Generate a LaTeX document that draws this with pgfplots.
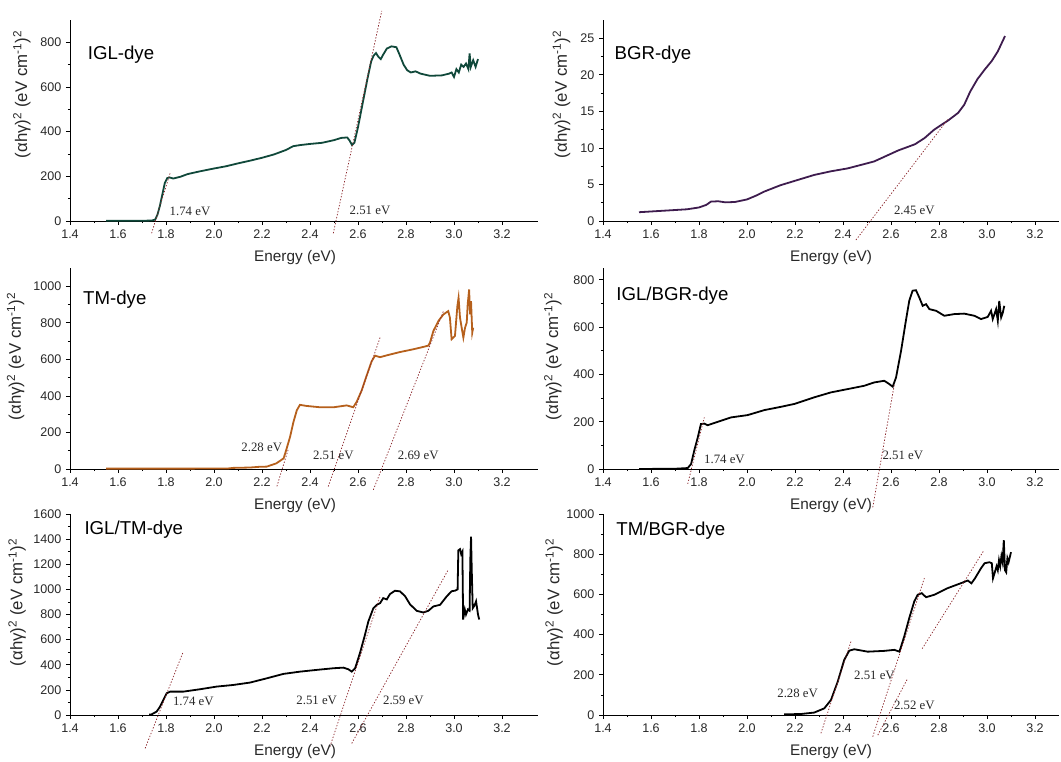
\documentclass[border=0pt]{standalone}
\usepackage{fontspec}
\setmainfont{Liberation Sans}
\newfontfamily\tnr{Liberation Serif}
\usepackage{pgfplots}
\pgfplotsset{compat=1.18}
\definecolor{iglc}{RGB}{16,72,58}
\definecolor{bgrc}{RGB}{62,28,78}
\definecolor{tmc}{RGB}{182,96,28}
\definecolor{tanc}{RGB}{140,40,45}
\definecolor{txt}{RGB}{40,40,40}
\pgfplotsset{
  myax/.style={
    scale only axis, axis lines*=left, clip=false,
    anchor=south west, height=150.75pt,
    xmin=1.4, ymin=0,
    xtick={1.4,1.6,1.8,2.0,2.2,2.4,2.6,2.8,3.0,3.2},
    minor x tick num=1, minor y tick num=1,
    tick align=outside, major tick length=3pt, minor tick length=1.6pt,
    every tick/.style={black, line width=0.5pt},
    axis line style={black, line width=0.6pt},
    /pgf/number format/assume math mode=true,
    x tick label style={/pgf/number format/.cd, fixed, fixed zerofill, precision=1, /tikz/.cd},
    y tick label style={/pgf/number format/.cd, fixed, 1000 sep={}, /tikz/.cd},
    tick label style={font=\fontsize{9.4}{10}\selectfont, text=txt},
    xlabel style={font=\fontsize{11.5}{13}\selectfont, text=txt},
    ylabel style={font=\fontsize{12.6}{14}\selectfont, text=txt},
    xlabel={Energy (eV)},
    ylabel={(αhγ)\textsuperscript{2} (eV cm\textsuperscript{-1})\textsuperscript{2}},
  },
  leftax/.style={myax, xmax=3.35, width=351pt,
    xlabel style={at={(axis description cs:0.481,-0.184)}, anchor=center}},
  rightax/.style={myax, xmax=3.3, width=342pt,
    xlabel style={at={(axis description cs:0.5,-0.184)}, anchor=center}},
  curve/.style={line width=1.35pt, no markers},
  tang/.style={tanc, line width=0.55pt, dash pattern=on 1pt off 1.3pt, no markers, forget plot},
}
\newcommand{\ttl}[3]{\node[anchor=base west, font=\fontsize{14}{16}\selectfont, text=black] at (axis description cs:#1,#2) {#3};}
\newcommand{\ann}[3]{\node[font=\tnr\fontsize{9.6}{11}\selectfont, text=txt] at (axis cs:#1,#2) {#3};}
\begin{document}
\begin{tikzpicture}
\path[use as bounding box] (0,0) rectangle (795.75pt,571.5pt);

% ---------- IGL-dye ----------
\begin{axis}[leftax, at={(52.5pt,405.75pt)}, ymax=900, ytick={0,200,400,600,800},
  ylabel style={at={(axis description cs:-0.103,0.63)}, anchor=center}]
\addplot[curve, iglc] coordinates {
(1.55,1) (1.60,1) (1.65,1) (1.70,1) (1.74,2) (1.755,6) (1.765,30) (1.775,70) (1.785,120) (1.795,170) (1.805,192) (1.815,195) (1.83,190) (1.86,198) (1.89,210) (1.94,222) (2.00,235) (2.05,245) (2.10,258) (2.15,270) (2.20,283) (2.25,298) (2.30,318) (2.33,335) (2.36,340) (2.40,345) (2.45,350) (2.50,362) (2.53,372) (2.555,374) (2.565,360) (2.575,340) (2.585,350) (2.60,420) (2.62,530) (2.64,640) (2.655,715) (2.665,740) (2.675,752) (2.685,735) (2.695,725) (2.705,745) (2.72,772) (2.74,782) (2.76,778) (2.775,740) (2.79,700) (2.805,675) (2.82,665) (2.84,670) (2.86,660) (2.90,650) (2.95,652) (2.98,660) (2.99,665) (3.00,645) (3.01,680) (3.02,665) (3.03,700) (3.04,690) (3.05,705) (3.06,680) (3.065,750) (3.07,690) (3.08,720) (3.09,690) (3.10,725)};
\addplot[tang] coordinates {(1.74,-55) (1.817,214)};
\addplot[tang] coordinates {(2.497,-55) (2.699,941)};
\ann{1.90}{42}{1.74 eV}
\ann{2.65}{49}{2.51 eV}
\ttl{0.028}{0.804}{IGL-dye}
\end{axis}

% ---------- BGR-dye ----------
\begin{axis}[rightax, at={(452.25pt,405.75pt)}, ymax=27.5, ytick={0,5,10,15,20,25},
  ylabel style={at={(axis description cs:-0.091,0.63)}, anchor=center}]
\addplot[curve, bgrc] coordinates {
(1.55,1.2) (1.60,1.3) (1.65,1.4) (1.70,1.5) (1.75,1.6) (1.80,1.85) (1.83,2.2) (1.85,2.65) (1.88,2.7) (1.91,2.55) (1.95,2.6) (2.00,2.95) (2.04,3.5) (2.07,4.0) (2.14,4.9) (2.21,5.6) (2.28,6.3) (2.35,6.8) (2.42,7.2) (2.49,7.8) (2.53,8.15) (2.56,8.6) (2.63,9.65) (2.70,10.5) (2.74,11.35) (2.78,12.5) (2.84,13.8) (2.88,14.8) (2.905,15.9) (2.93,17.7) (2.96,19.4) (2.99,20.7) (3.02,21.9) (3.045,23.2) (3.075,25.3)};
\addplot[tang] coordinates {(2.454,-2.6) (2.836,13.87)};
\ann{2.697}{1.5}{2.45 eV}
\ttl{0.015}{0.804}{BGR-dye}
\end{axis}

% ---------- TM-dye ----------
\begin{axis}[leftax, at={(52.5pt,219.75pt)}, ymax=1100, ytick={0,200,400,600,800,1000},
  ylabel style={at={(axis description cs:-0.116,0.56)}, anchor=center}]
\addplot[curve, tmc] coordinates {
(1.55,2) (1.70,2) (1.90,2) (2.06,3) (2.08,6) (2.15,8) (2.19,12) (2.22,13) (2.26,31) (2.29,58) (2.30,100) (2.317,176) (2.331,257) (2.345,321) (2.358,351) (2.386,345) (2.44,338) (2.50,338) (2.553,348) (2.58,338) (2.594,366) (2.615,429) (2.636,511) (2.657,590) (2.671,620) (2.692,612) (2.72,622) (2.775,640) (2.83,655) (2.872,668) (2.893,675) (2.90,692) (2.914,755) (2.935,810) (2.956,846) (2.976,864) (2.983,828) (2.99,710) (3.004,728) (3.014,891) (3.019,937) (3.025,828) (3.032,773) (3.039,719) (3.046,773) (3.053,801) (3.057,900) (3.063,982) (3.067,846) (3.071,918) (3.076,746) (3.08,773)};
\addplot[tang] coordinates {(2.262,-95) (2.31,110)};
\addplot[tang] coordinates {(2.476,-96) (2.692,719)};
\addplot[tang] coordinates {(2.664,-114) (2.956,864)};
\ann{2.199}{121}{2.28 eV}
\ann{2.497}{76}{2.51 eV}
\ann{2.851}{76}{2.69 eV}
\ttl{0.018}{0.816}{TM-dye}
\end{axis}

% ---------- IGL/BGR-dye ----------
\begin{axis}[rightax, at={(452.25pt,219.75pt)}, ymax=850, ytick={0,200,400,600,800},
  ylabel style={at={(axis description cs:-0.11,0.56)}, anchor=center}]
\addplot[curve, black] coordinates {
(1.551,0) (1.70,1) (1.753,4) (1.767,21) (1.78,77) (1.795,134) (1.808,190) (1.822,192) (1.836,185) (1.88,200) (1.933,218) (2.003,228) (2.072,249) (2.142,263) (2.197,275) (2.28,303) (2.35,324) (2.42,338) (2.489,352) (2.53,366) (2.572,373) (2.593,359) (2.607,348) (2.621,387) (2.642,500) (2.662,627) (2.676,711) (2.69,754) (2.704,756) (2.718,725) (2.732,690) (2.746,697) (2.76,676) (2.788,669) (2.822,648) (2.864,655) (2.905,657) (2.947,648) (2.975,634) (3.003,643) (3.017,669) (3.024,634) (3.038,676) (3.045,627) (3.051,711) (3.059,641) (3.066,662) (3.072,690)};
\addplot[tang] coordinates {(1.753,-63) (1.822,218)};
\addplot[tang] coordinates {(2.524,-162) (2.614,359)};
\ann{1.906}{42}{1.74 eV}
\ann{2.649}{56}{2.51 eV}
\ttl{0.019}{0.836}{IGL/BGR-dye}
\end{axis}

% ---------- IGL/TM-dye ----------
\begin{axis}[leftax, at={(52.5pt,35.25pt)}, ymax=1600, ytick={0,200,400,600,800,1000,1200,1400,1600},
  ylabel style={at={(axis description cs:-0.113,0.56)}, anchor=center}]
\addplot[curve, black] coordinates {
(1.73,3) (1.74,5) (1.761,27) (1.775,66) (1.789,120) (1.803,173) (1.817,186) (1.872,186) (1.942,205) (2.011,226) (2.08,239) (2.15,258) (2.22,292) (2.289,327) (2.358,345) (2.428,359) (2.497,372) (2.539,377) (2.56,364) (2.574,345) (2.588,372) (2.608,492) (2.629,638) (2.643,744) (2.664,850) (2.678,877) (2.692,890) (2.705,930) (2.72,920) (2.733,962) (2.754,989) (2.775,984) (2.796,946) (2.817,880) (2.845,829) (2.872,816) (2.893,829) (2.914,864) (2.942,877) (2.97,945) (2.99,985) (3.005,990) (3.015,1000) (3.018,1310) (3.025,1320) (3.03,1280) (3.035,1300) (3.038,760) (3.045,840) (3.05,800) (3.058,840) (3.065,830) (3.068,1240) (3.071,1420) (3.074,1150) (3.078,850) (3.085,870) (3.092,905) (3.10,800) (3.105,760)};
\addplot[tang] coordinates {(1.713,-266) (1.872,505)};
\addplot[tang] coordinates {(2.483,-252) (2.692,943)};
\addplot[tang] coordinates {(2.574,-226) (2.976,1156)};
\ann{1.914}{106}{1.74 eV}
\ann{2.428}{119}{2.51 eV}
\ann{2.789}{119}{2.59 eV}
\ttl{0.021}{0.896}{IGL/TM-dye}
\end{axis}

% ---------- TM/BGR-dye ----------
\begin{axis}[rightax, at={(452.25pt,35.25pt)}, ymax=1000, ytick={0,200,400,600,800,1000},
  ylabel style={at={(axis description cs:-0.107,0.56)}, anchor=center}]
\addplot[curve, black] coordinates {
(2.155,3) (2.225,5) (2.28,12) (2.322,33) (2.35,75) (2.378,166) (2.405,274) (2.426,320) (2.447,327) (2.503,315) (2.572,319) (2.614,324) (2.635,315) (2.655,390) (2.676,482) (2.697,565) (2.711,598) (2.728,606) (2.746,586) (2.78,598) (2.836,631) (2.892,656) (2.92,669) (2.935,655) (2.95,680) (2.975,730) (2.99,755) (3.01,760) (3.02,755) (3.025,680) (3.03,700) (3.04,740) (3.045,720) (3.05,770) (3.055,740) (3.06,790) (3.065,760) (3.07,870) (3.075,720) (3.08,710) (3.085,780) (3.09,760) (3.10,810)};
\addplot[tang] coordinates {(2.308,-91) (2.433,365)};
\addplot[tang] coordinates {(2.524,-108) (2.739,681)};
\addplot[tang] coordinates {(2.545,-100) (2.67,183)};
\addplot[tang] coordinates {(2.73,330) (2.985,815)};
\ann{2.211}{108}{2.28 eV}
\ann{2.531}{199}{2.51 eV}
\ann{2.697}{50}{2.52 eV}
\ttl{0.019}{0.892}{TM/BGR-dye}
\end{axis}
\end{tikzpicture}
\end{document}
